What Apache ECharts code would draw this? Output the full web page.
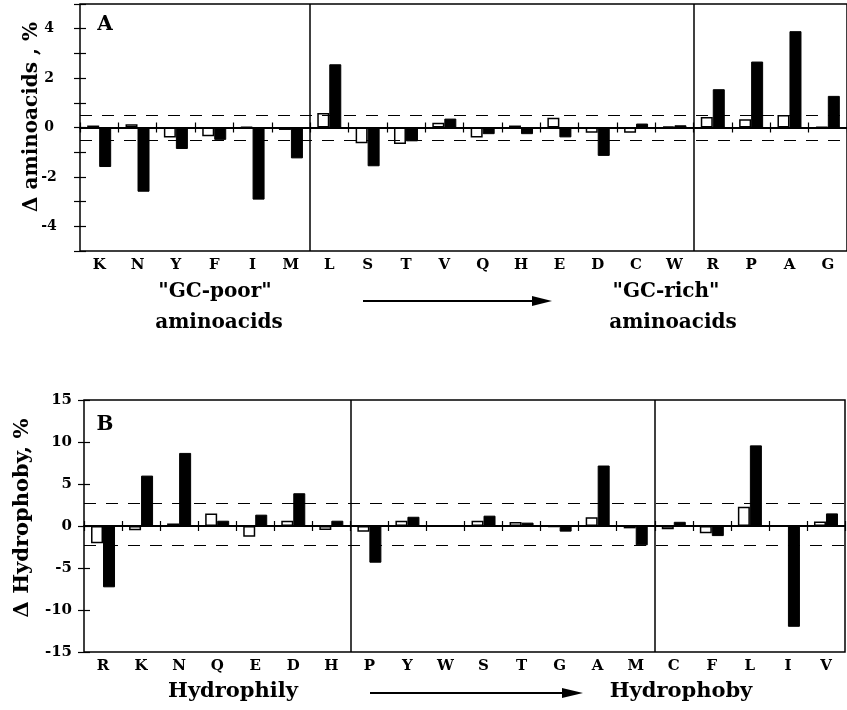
<!DOCTYPE html>
<html><head><meta charset="utf-8">
<script src="https://cdn.jsdelivr.net/npm/echarts@6/dist/echarts.min.js"></script>
<style>html,body{margin:0;padding:0;background:#fff}#c{width:847px;height:710px}</style>
</head><body><div id="c"></div>
<script>
// ---- Panel A data ----
const catsA = ['K','N','Y','F','I','M','L','S','T','V','Q','H','E','D','C','W','R','P','A','G'];
const whiteA = [0.08,0.13,-0.40,-0.35,0.02,-0.10,0.59,-0.64,-0.67,0.19,-0.40,0.08,0.39,-0.21,-0.21,0.05,0.43,0.33,0.51,0.02];
const blackA = [-1.60,-2.60,-0.87,-0.50,-2.92,-1.25,2.56,-1.57,-0.56,0.36,-0.27,-0.27,-0.40,-1.15,0.16,0.09,1.55,2.67,3.90,1.28];
const tickLabelsA = [-4,-2,0,2,4];
const boundsA = [6,16];
const threshA = [0.5,-0.5];
// ---- Panel B data ----
const catsB = ['R','K','N','Q','E','D','H','P','Y','W','S','T','G','A','M','C','F','L','I','V'];
const whiteB = [-2.06,-0.50,0.30,1.50,-1.27,0.63,-0.48,-0.67,0.63,0,0.63,0.48,-0.10,1.03,-0.28,-0.40,-0.87,2.30,0.05,0.55];
const blackB = [-7.30,6.00,8.70,0.63,1.35,3.90,0.63,-4.37,1.10,0,1.23,0.40,-0.67,7.20,-2.30,0.50,-1.20,9.60,-12.00,1.50];
const tickLabelsB = [-15,-10,-5,0,5,10,15];
const boundsB = [7,15];
const threshB = [2.7,-2.3];

const FF = '"DejaVu Serif", "Liberation Serif", serif';
const chart = echarts.init(document.getElementById('c'), null, {renderer:'canvas'});

function panel(gi, cats, white, black, tickLabels, bounds, thresh, ymin, ymax, yint, labelAlign, labelMargin, labelSize) {
  const xb = gi*4, yb = gi*2;
  const xAxes = [
    {gridIndex:gi, type:'category', data:cats, position:'bottom', axisLine:{show:false, onZero:false},
     axisTick:{show:false}, axisLabel:{interval:0, margin:7, color:'#000', fontFamily:FF, fontWeight:'bold', fontSize:15}},
    {gridIndex:gi, type:'category', data:cats, axisLine:{show:true, onZero:true, onZeroAxisIndex:yb, lineStyle:{color:'#000', width:2}},
     axisTick:{show:true, inside:true, interval:0, length:5, lineStyle:{color:'#000', width:1.2}}, axisLabel:{show:false}},
    {gridIndex:gi, type:'category', data:cats, axisLine:{show:false, onZero:true, onZeroAxisIndex:yb},
     axisTick:{show:true, inside:false, interval:0, length:5, lineStyle:{color:'#000', width:1.2}}, axisLabel:{show:false}},
    {gridIndex:gi, type:'value', min:0, max:cats.length, show:false}
  ];
  const yAxes = [
    {gridIndex:gi, type:'value', min:ymin, max:ymax, interval:yint, position:'left',
     axisLine:{show:false, onZero:false}, splitLine:{show:false},
     axisTick:{show:true, inside:true, length:6, lineStyle:{color:'#000', width:1.2}},
     axisLabel:{color:'#000', fontFamily:FF, fontWeight:'bold', fontSize:labelSize, align:labelAlign, margin:labelMargin,
       formatter: v => tickLabels.indexOf(v) >= 0 ? String(v) : ''}},
    {gridIndex:gi, type:'value', min:ymin, max:ymax, interval:yint, position:'left',
     axisLine:{show:false, onZero:false}, splitLine:{show:false},
     axisTick:{show:true, inside:false, length:6, lineStyle:{color:'#000', width:1.2}},
     axisLabel:{show:false}}
  ];
  const series = [
    {type:'bar', xAxisIndex:xb, yAxisIndex:yb, data:white, barWidth:12, barGap:'0%',
     itemStyle:{color:'#fff', borderColor:'#000', borderWidth:1.5},
     markLine:{silent:true, symbol:['none','none'], label:{show:false},
       lineStyle:{color:'#000', type:[12,10], width:1},
       data: thresh.map(t => ({yAxis:t}))}},
    {type:'bar', xAxisIndex:xb, yAxisIndex:yb, data:black, barWidth:12, barGap:'0%',
     itemStyle:{color:'#000', borderColor:'#000', borderWidth:1}},
    {type:'line', xAxisIndex:xb+3, yAxisIndex:yb, data:[], symbol:'none',
     markLine:{silent:true, symbol:['none','none'], label:{show:false},
       lineStyle:{color:'#000', type:'solid', width:1.5},
       data: bounds.map(b => ({xAxis:b}))}}
  ];
  return {xAxes, yAxes, series};
}

const pA = panel(0, catsA, whiteA, blackA, tickLabelsA, boundsA, threshA, -5, 5, 1, 'center', 31, 14);
const pB = panel(1, catsB, whiteB, blackB, tickLabelsB, boundsB, threshB, -15, 15, 5, 'right', 12, 15);

const T = (text, x, y, size, extra) => Object.assign({type:'text', x, y, style:{text, font:'bold '+size+'px '+FF, fill:'#000', align:'center', verticalAlign:'middle'}}, extra||{});

chart.setOption({
  animation:false,
  backgroundColor:'#fff',
  grid:[
    {left:80, top:4, width:770, height:247, show:true, borderColor:'#000', borderWidth:1.5, backgroundColor:'transparent'},
    {left:84, top:400, width:761, height:252, show:true, borderColor:'#000', borderWidth:1.5, backgroundColor:'transparent'}
  ],
  xAxis: pA.xAxes.concat(pB.xAxes),
  yAxis: pA.yAxes.concat(pB.yAxes),
  series: pA.series.concat(pB.series),
  graphic:[
    T('A', 105, 25, 20),
    T('B', 105, 425, 20),
    T('\u0394 aminoacids , %', 32, 117, 20, {rotation:Math.PI/2}),
    T('\u0394 Hydrophoby, %', 23, 518, 21, {rotation:Math.PI/2}),
    T('"GC-poor"', 215, 292, 20),
    T('aminoacids', 219, 323, 20),
    T('"GC-rich"', 666, 292, 20),
    T('aminoacids', 673, 323, 20),
    T('Hydrophily', 233, 692, 21),
    T('Hydrophoby', 681, 692, 21),
    {type:'line', shape:{x1:363, y1:301, x2:535, y2:301}, style:{stroke:'#000', lineWidth:2}},
    {type:'polygon', shape:{points:[[532,296],[552,301],[532,306]]}, style:{fill:'#000'}},
    {type:'line', shape:{x1:370, y1:693, x2:565, y2:693}, style:{stroke:'#000', lineWidth:2}},
    {type:'polygon', shape:{points:[[562,688],[583,693],[562,698]]}, style:{fill:'#000'}}
  ]
});
</script></body></html>
